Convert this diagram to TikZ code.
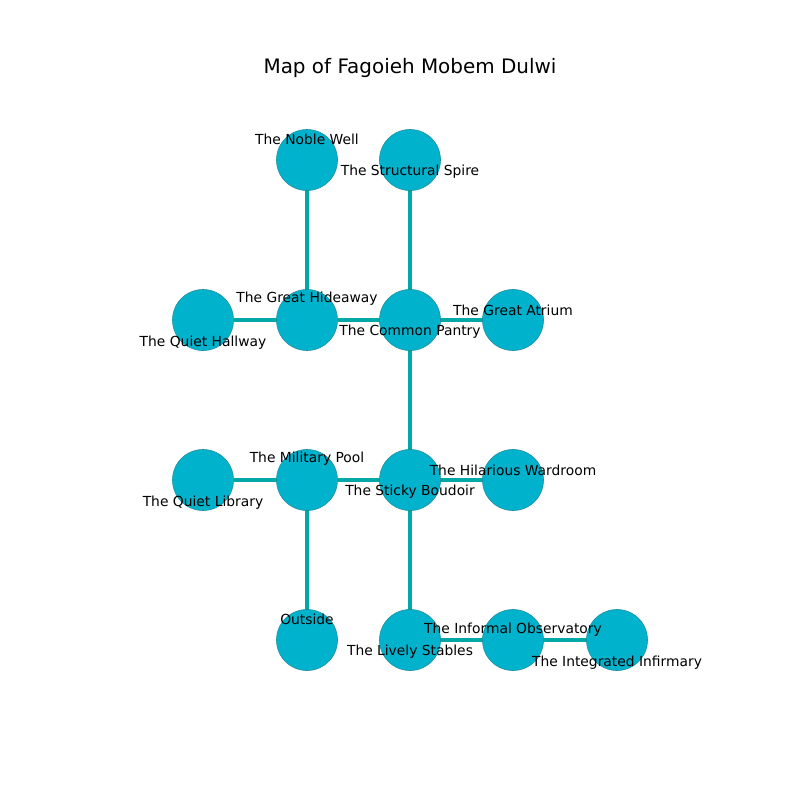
\documentclass[tikz,border=0pt]{standalone}
\usepackage{fontspec}
\setmainfont{DejaVu Sans}
\usetikzlibrary{backgrounds}
\definecolor{nodefill}{HTML}{00B2CC}
\definecolor{nodeedge}{HTML}{1A8C9C}
\definecolor{edgecol}{HTML}{00A8A8}
\tikzset{
  room/.style={circle, fill=nodefill, draw=nodeedge, line width=0.4pt, minimum size=61*0.7227pt, inner sep=0pt},
  link/.style={draw=edgecol, line width=3.6pt},
  lbl/.style={font=\fontsize{10}{12}\selectfont, inner sep=0pt, anchor=center},
  ttl/.style={font=\fontsize{14.4}{17}\selectfont, inner sep=0pt, anchor=center}
}
\begin{document}
\begin{tikzpicture}[x=0.01in,y=-0.01in]
\useasboundingbox (0,0) rectangle (800,800);
% nodes
\node[room] (nw) at (307,160) {};
\node[room] (ss) at (410,160) {};
\node[room] (qh) at (203,320) {};
\node[room] (gh) at (307,320) {};
\node[room] (cp) at (410,320) {};
\node[room] (ga) at (513,320) {};
\node[room] (ql) at (203,480) {};
\node[room] (mp) at (307,480) {};
\node[room] (sb) at (410,480) {};
\node[room] (hw) at (513,480) {};
\node[room] (os) at (307,640) {};
\node[room] (ls) at (410,640) {};
\node[room] (io) at (513,640) {};
\node[room] (ii) at (617,640) {};
% edges
\begin{scope}[on background layer]
\path[link] (nw.center) -- (gh.center);
\path[link] (ss.center) -- (cp.center);
\path[link] (qh.center) -- (gh.center);
\path[link] (gh.center) -- (cp.center);
\path[link] (cp.center) -- (ga.center);
\path[link] (cp.center) -- (sb.center);
\path[link] (ql.center) -- (mp.center);
\path[link] (mp.center) -- (sb.center);
\path[link] (sb.center) -- (hw.center);
\path[link] (mp.center) -- (os.center);
\path[link] (sb.center) -- (ls.center);
\path[link] (ls.center) -- (io.center);
\path[link] (io.center) -- (ii.center);
\end{scope}
% labels
\node[lbl] (lnw) at (307,139) {The Noble Well};
\node[lbl] (lss) at (410,172) {The Structural Spire};
\node[lbl] (lgh) at (307,299) {The Great Hideaway};
\node[lbl] (lqh) at (203,343) {The Quiet Hallway};
\node[lbl] (lcp) at (410,332) {The Common Pantry};
\node[lbl] (lga) at (513,310) {The Great Atrium};
\node[lbl] (lmp) at (307,459) {The Military Pool};
\node[lbl] (lql) at (203,503) {The Quiet Library};
\node[lbl] (lsb) at (410,492) {The Sticky Boudoir};
\node[lbl] (lhw) at (513,470) {The Hilarious Wardroom};
\node[lbl] (los) at (307,619) {Outside};
\node[lbl] (lls) at (410,652) {The Lively Stables};
\node[lbl] (lio) at (513,630) {The Informal Observatory};
\node[lbl] (lii) at (617,663) {The Integrated Infirmary};
\node[ttl] (title) at (410,68) {Map of Fagoieh Mobem Dulwi};
\end{tikzpicture}
\end{document}
